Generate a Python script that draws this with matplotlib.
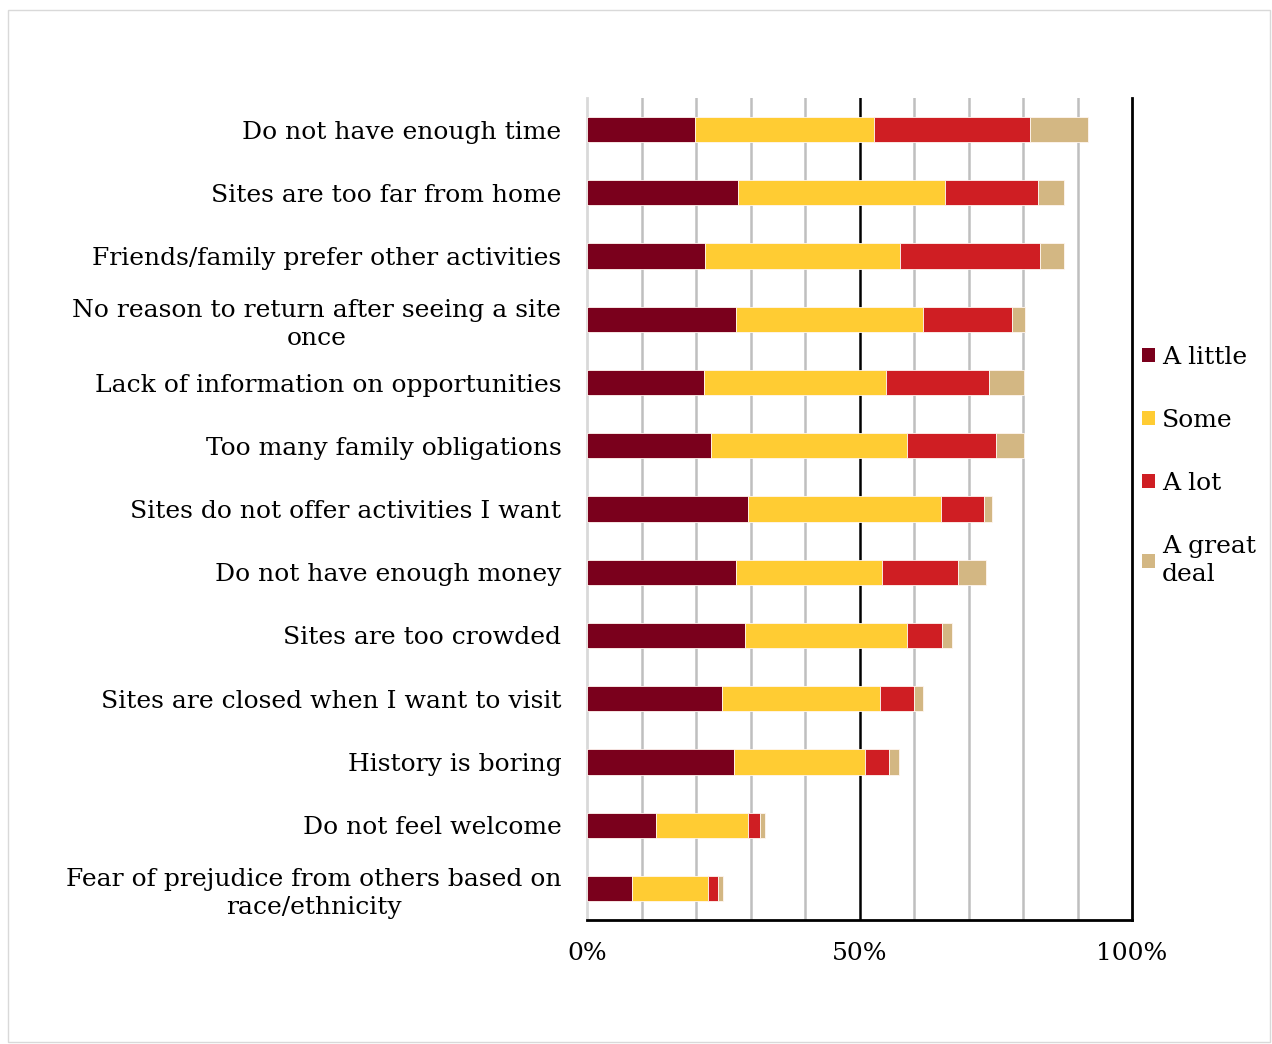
import numpy as np
import matplotlib.pyplot as plt
from matplotlib.patches import Rectangle, Patch

# ---------------------------------------------------------------
# data (percent of respondents)
# ---------------------------------------------------------------
reasons = [
    "Do not have enough time",
    "Sites are too far from home",
    "Friends/family prefer other activities",
    "No reason to return after seeing a site\nonce",
    "Lack of information on opportunities",
    "Too many family obligations",
    "Sites do not offer activities I want",
    "Do not have enough money",
    "Sites are too crowded",
    "Sites are closed when I want to visit",
    "History is boring",
    "Do not feel welcome",
    "Fear of prejudice from others based on\nrace/ethnicity",
]

a_little     = [19.9, 27.7, 21.6, 27.3, 21.4, 22.8, 29.6, 27.3, 29.0, 24.7, 26.9, 12.7, 8.2]
some         = [32.7, 37.9, 35.9, 34.4, 33.5, 35.9, 35.3, 26.8, 29.8, 29.0, 24.1, 16.9, 14.0]
a_lot        = [28.6, 17.1, 25.7, 16.2, 18.8, 16.3, 8.0, 13.9, 6.3, 6.3, 4.4, 2.1, 1.9]
a_great_deal = [10.7, 4.9, 4.3, 2.5, 6.5, 5.1, 1.5, 5.3, 1.8, 1.7, 1.8, 0.9, 0.8]

series_names = ["A little", "Some", "A lot", "A great\ndeal"]
colors = ["#7A001C", "#FFCC33", "#CF1E23", "#D3B783"]

plt.rcParams['font.family'] = ['DejaVu Serif']
FS = 18

fig = plt.figure(figsize=(12.72, 10.44), dpi=100)
ax = fig.add_axes([587 / 1272, 1 - 920 / 1044, (1132 - 587) / 1272, (920 - 98) / 1044])

y = np.arange(len(reasons))
left = np.zeros(len(reasons))
for vals, name, col in zip([a_little, some, a_lot, a_great_deal], series_names, colors):
    vals = np.array(vals)
    ax.barh(y, vals, left=left, height=0.4, color=col, label=name,
            edgecolor="#FFF6F0", linewidth=0.6, zorder=3)
    left += vals

ax.set_xlim(0, 100)
ax.set_ylim(len(reasons) - 0.5, -0.5)

# gridlines every 10%, 50% in black
for gx in range(10, 100, 10):
    ax.axvline(gx, color="black" if gx == 50 else "#BFBFBF",
               linewidth=1.8, zorder=1)

ax.set_xticks([0, 50, 100])
ax.set_xticklabels(["0%", "50%", "100%"])
ax.set_yticks(y)
ax.set_yticklabels(reasons)
for lab in ax.get_yticklabels():
    lab.set_multialignment("center")
    lab.set_linespacing(1.3)
ax.tick_params(axis="both", length=0, labelsize=FS)
ax.tick_params(axis="y", pad=18.5)
ax.tick_params(axis="x", pad=16)

ax.spines["top"].set_visible(False)
ax.spines["left"].set_color("#D9D9D9")
ax.spines["left"].set_linewidth(2)
ax.spines["right"].set_color("black")
ax.spines["right"].set_linewidth(2)
ax.spines["bottom"].set_color("black")
ax.spines["bottom"].set_linewidth(2)

handles = [Patch(facecolor=c) for c in colors]
leg = ax.legend(handles, series_names, loc="center left",
                bbox_to_anchor=(1.0, 0.552), frameon=False, fontsize=FS,
                handlelength=0.5, handleheight=0.5, handletextpad=0.3,
                labelspacing=1.6, borderaxespad=0.0)
for t in leg.get_texts():
    t.set_linespacing(1.3)

# light outer border
fig.patches.append(Rectangle((8 / 1272, 2 / 1044), 1262 / 1272, 1032 / 1044,
                             transform=fig.transFigure, fill=False,
                             edgecolor="#D9D9D9", linewidth=1))

fig.savefig("out.png", dpi=100)
